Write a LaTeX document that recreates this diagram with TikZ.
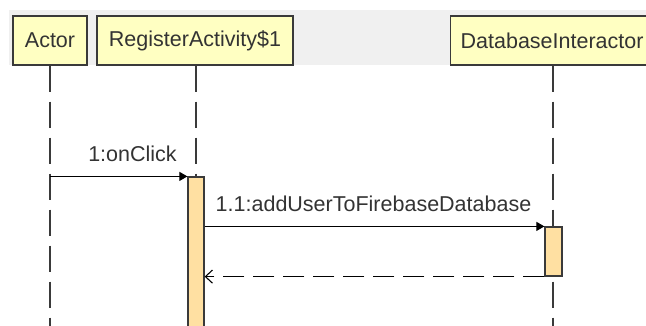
\documentclass[tikz,border=0pt]{standalone}
\usepackage{fontspec}
\setmainfont{Liberation Sans}
\usetikzlibrary{arrows.meta}
\pgfdeclarelayer{bg}
\pgfsetlayers{bg,main}
\definecolor{hdr}{HTML}{FFFFC2}
\definecolor{actfill}{HTML}{FFE0A2}
\definecolor{band}{HTML}{F0F0F0}
\definecolor{txt}{HTML}{333333}
\definecolor{edge}{HTML}{3A3A3A}
\begin{document}
\begin{tikzpicture}[x=1pt,y=-1pt,
  font=\fontsize{21.5}{24}\selectfont,
  hdrbox/.style={draw=edge, line width=1.3pt, fill=hdr, text=txt, minimum height=49pt, inner sep=0pt},
  actbox/.style={draw=edge, line width=1.2pt, fill=actfill, inner sep=0pt},
  lifeline/.style={draw=edge, line width=1.6pt, dash pattern=on 26pt off 10pt},
  msg/.style={draw=black, line width=1.1pt, -{Triangle[length=8pt,width=9pt]}},
  retmsg/.style={draw=black, line width=1.1pt, dash pattern=on 21pt off 9pt, -{Straight Barb[length=7pt,width=13pt]}},
  lbl/.style={text=txt, inner sep=0pt}]
\useasboundingbox (0,0) rectangle (646,325);
\clip (0,0) rectangle (646,325);
\begin{pgfonlayer}{bg}
\fill[band] (9,10) rectangle (660,65);
\end{pgfonlayer}
% headers
\node[hdrbox, minimum width=74pt] (actor) at (50,40.5) {Actor};
\node[hdrbox, minimum width=196pt] (ra) at (195,40.5) {RegisterActivity\$1};
\node[hdrbox, anchor=west, inner xsep=10pt] (db) at (450,40.5) {DatabaseInteractor};
% activations
\node[actbox, minimum width=16pt, minimum height=160pt] (raact) at (196,257) {};
\node[actbox, minimum width=17pt, minimum height=49pt] (dbact) at (553.5,251.5) {};
\coordinate (actorend) at (50,330);
\coordinate (raend) at (196,330);
\coordinate (dbend) at (553,330);
% lifelines (behind activations)
\begin{pgfonlayer}{bg}
\draw[lifeline] (actor.south) -- (actorend);
\draw[lifeline] (ra.south -| raend) -- (raend);
\draw[lifeline] (db.south -| dbend) -- (dbend);
\end{pgfonlayer}
% messages
\draw[msg] (actor.south |- raact.north) -- (raact.north west);
\node[lbl] (l1) at (132.5,153.5) {1:onClick};
\draw[msg] (raact.east |- dbact.north) -- (dbact.north west);
\node[lbl] (l2) at (373.5,203.5) {1.1:addUserToFirebaseDatabase};
\draw[retmsg] (dbact.south west) -- (raact.east |- dbact.south);
\end{tikzpicture}
\end{document}
